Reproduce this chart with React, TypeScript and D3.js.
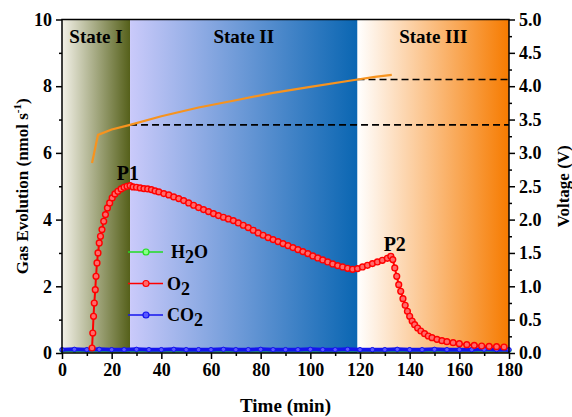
import * as d3 from 'd3'
import { useEffect, useRef } from 'react'

// time (min) and gas evolution (nmol/s) for O2
const o2Time = [12.1, 12.4, 12.7, 13.0, 13.4, 13.7, 14.1, 14.5, 15.0, 15.5, 16.1, 16.8, 17.5, 18.3, 19.2, 20.2, 21.3, 22.5, 23.8, 25.0, 26.2, 27.4, 28.6, 30, 31.5, 33, 34.5, 36, 37.5, 39, 41, 43, 45, 47, 49, 51, 53, 55, 57, 59, 61, 63, 65, 67, 69, 71, 73, 75, 77, 79, 81, 83, 85, 87, 89, 91, 93, 95, 97, 99, 101, 103, 105, 107, 109, 111, 113, 115, 117, 119, 121, 123, 125, 127, 129, 131, 132.4, 133.2, 134, 134.8, 135.6, 136.4, 137.3, 138.2, 139.1, 140, 141, 142, 143.2, 144.5, 146, 147.5, 149, 151, 153, 155, 157.5, 160, 163, 166, 169, 172, 175, 178]
const o2Values = [0.15, 0.6, 1.1, 1.5, 1.9, 2.3, 2.7, 3.0, 3.3, 3.5, 3.7, 3.95, 4.15, 4.35, 4.5, 4.65, 4.77, 4.85, 4.92, 4.97, 5.0, 5.02, 4.98, 4.97, 4.95, 4.93, 4.92, 4.9, 4.86, 4.83, 4.78, 4.74, 4.68, 4.63, 4.57, 4.5, 4.43, 4.36, 4.3, 4.24, 4.18, 4.12, 4.07, 4.02, 3.97, 3.9, 3.83, 3.76, 3.68, 3.6, 3.53, 3.46, 3.4, 3.34, 3.28, 3.22, 3.16, 3.1, 3.04, 2.98, 2.91, 2.85, 2.79, 2.73, 2.67, 2.62, 2.58, 2.54, 2.51, 2.53, 2.58, 2.63, 2.68, 2.73, 2.78, 2.84, 2.9, 2.8, 2.55, 2.3, 2.05, 1.85, 1.63, 1.43, 1.25, 1.1, 0.96, 0.85, 0.75, 0.66, 0.58, 0.51, 0.46, 0.41, 0.37, 0.34, 0.31, 0.28, 0.25, 0.23, 0.21, 0.2, 0.19, 0.18]

// baseline species
const baseTime = [0, 5, 10, 15, 20, 25, 30, 35, 40, 45, 50, 55, 60, 65, 70, 75, 80, 85, 90, 95, 100, 105, 110, 115, 120, 125, 130, 135, 140, 145, 150, 155, 160, 165, 170, 175, 180]
const co2Values = [0.1, 0.11, 0.1, 0.11, 0.1, 0.1, 0.11, 0.1, 0.1, 0.11, 0.1, 0.1, 0.1, 0.11, 0.1, 0.1, 0.11, 0.1, 0.1, 0.1, 0.11, 0.1, 0.1, 0.11, 0.1, 0.1, 0.1, 0.11, 0.1, 0.1, 0.11, 0.1, 0.1, 0.1, 0.11, 0.1, 0.1]
const h2oValues = [0.08, 0.08, 0.08, 0.09, 0.08, 0.08, 0.08, 0.09, 0.08, 0.08, 0.08, 0.08, 0.09, 0.08, 0.08, 0.08, 0.08, 0.09, 0.08, 0.08, 0.08, 0.08, 0.09, 0.08, 0.08, 0.08, 0.08, 0.09, 0.08, 0.08, 0.08, 0.08, 0.09, 0.08, 0.08, 0.08, 0.08]

// voltage (V)
const vTime = [12.1, 14.5, 20, 27.4, 40, 55, 70, 85, 100, 119, 126, 132.8]
const vValues = [2.85, 3.27, 3.35, 3.42, 3.55, 3.68, 3.79, 3.9, 3.99, 4.1, 4.14, 4.17]

// stage windows and voltage plateaus
const states = [
  { name: 'State I', from: 0, to: 27.4, colors: ['#f3f1e8', '#55601a'] },
  { name: 'State II', from: 27.4, to: 119, colors: ['#cacafa', '#0a66b2'] },
  { name: 'State III', from: 119, to: 180, colors: ['#ffffff', '#f67b00'] },
]
const plateaus = [{ v: 3.42, from: 27.4 }, { v: 4.1, from: 119 }]
const peaks = [{ label: 'P1', t: 26.5, v: 5.2 }, { label: 'P2', t: 134, v: 3.05 }]

const xTicks = [0, 20, 40, 60, 80, 100, 120, 140, 160, 180]
const yTicks = [0, 2, 4, 6, 8, 10]
const vTicks = [0, 0.5, 1, 1.5, 2, 2.5, 3, 3.5, 4, 4.5, 5]

const font = '"Liberation Serif", "Times New Roman", serif'

export default function App() {
  const ref = useRef(null)
  const width = 572
  const height = 417
  const left = 62, right = 509, top = 19.5, bottom = 353

  useEffect(() => {
    const svg = d3.select(ref.current)
    svg.selectAll('*').remove()

    const x = d3.scaleLinear().domain([0, 180]).range([left, right])
    const y = d3.scaleLinear().domain([0, 10]).range([bottom, top])
    const yv = d3.scaleLinear().domain([0, 5]).range([bottom, top])

    const defs = svg.append('defs')
    states.forEach((s, i) => {
      const g = defs.append('linearGradient').attr('id', 'st' + i)
      g.append('stop').attr('offset', '0%').attr('stop-color', s.colors[0])
      g.append('stop').attr('offset', '100%').attr('stop-color', s.colors[1])
      svg.append('rect')
        .attr('x', x(s.from)).attr('y', top)
        .attr('width', x(s.to) - x(s.from)).attr('height', bottom - top)
        .attr('fill', `url(#st${i})`)
      svg.append('text')
        .attr('x', (x(s.from) + x(s.to)) / 2).attr('y', 43)
        .attr('text-anchor', 'middle')
        .attr('font-family', font).attr('font-weight', 'bold').attr('font-size', 19)
        .text(s.name)
    })

    // dashed plateaus
    plateaus.forEach(p => {
      svg.append('line')
        .attr('x1', x(p.from)).attr('x2', right)
        .attr('y1', yv(p.v)).attr('y2', yv(p.v))
        .attr('stroke', 'black').attr('stroke-width', 1.6)
        .attr('stroke-dasharray', '7,4')
    })

    // voltage
    const vData = vTime.map((t, i) => [t, vValues[i]])
    svg.append('path')
      .datum(vData)
      .attr('fill', 'none').attr('stroke', '#f7931e').attr('stroke-width', 2.2)
      .attr('d', d3.line().x(d => x(d[0])).y(d => yv(d[1])))

    // baseline species
    const series = [
      { vals: h2oValues, color: '#22dd22', fill: '#88ff88' },
      { vals: co2Values, color: '#1414ee', fill: '#5a5aff' },
    ]
    series.forEach(s => {
      const data = baseTime.map((t, i) => [t, s.vals[i]])
      svg.append('path').datum(data)
        .attr('fill', 'none').attr('stroke', s.color).attr('stroke-width', 4)
        .attr('d', d3.line().x(d => x(d[0])).y(d => y(d[1])))
      svg.append('g').selectAll('circle').data(data).join('circle')
        .attr('cx', d => x(d[0])).attr('cy', d => y(d[1])).attr('r', 2.2)
        .attr('fill', s.fill).attr('stroke', s.color).attr('stroke-width', 1)
    })

    // O2
    const o2 = o2Time.map((t, i) => [t, o2Values[i]])
    svg.append('path').datum(o2)
      .attr('fill', 'none').attr('stroke', 'red').attr('stroke-width', 2)
      .attr('d', d3.line().x(d => x(d[0])).y(d => y(d[1])))
    svg.append('g').selectAll('circle').data(o2).join('circle')
      .attr('cx', d => x(d[0])).attr('cy', d => y(d[1])).attr('r', 2.9)
      .attr('fill', '#ff6b6b').attr('stroke', '#ff0000').attr('stroke-width', 1.4)

    // peak labels
    peaks.forEach(p => {
      svg.append('text')
        .attr('x', x(p.t)).attr('y', y(p.v))
        .attr('text-anchor', 'middle')
        .attr('font-family', font).attr('font-weight', 'bold').attr('font-size', 20)
        .text(p.label)
    })

    // legend
    const legend = [
      { label: 'H', sub: '2', tail: 'O', color: '#22dd22', fill: '#88ff88' },
      { label: 'O', sub: '2', tail: '', color: '#ff0000', fill: '#ff6b6b' },
      { label: 'CO', sub: '2', tail: '', color: '#1414ee', fill: '#5a5aff' },
    ]
    legend.forEach((l, i) => {
      const ly = 252 + i * 31.5
      svg.append('line').attr('x1', 128).attr('x2', 163).attr('y1', ly).attr('y2', ly)
        .attr('stroke', l.color).attr('stroke-width', 1.6)
      svg.append('circle').attr('cx', 146).attr('cy', ly).attr('r', 3)
        .attr('fill', l.fill).attr('stroke', l.color).attr('stroke-width', 1.2)
      const t = svg.append('text')
        .attr('x', i == 0 ? 171 : 167).attr('y', ly + 6)
        .attr('font-family', font).attr('font-weight', 'bold').attr('font-size', 18)
      t.append('tspan').text(l.label)
      t.append('tspan').attr('dy', 5).text(l.sub)
      if (l.tail) t.append('tspan').attr('dy', -5).text(l.tail)
    })

    // frame
    svg.append('rect')
      .attr('x', left).attr('y', top).attr('width', right - left).attr('height', bottom - top)
      .attr('fill', 'none').attr('stroke', 'black').attr('stroke-width', 1.5)

    const styleAxis = g => {
      g.select('.domain').remove()
      g.selectAll('line').attr('stroke', 'black').attr('stroke-width', 1.5)
      g.selectAll('text')
        .attr('font-family', font).attr('font-weight', 'bold').attr('font-size', 18).attr('fill', 'black')
    }

    // x axis
    svg.append('g').attr('transform', `translate(0,${bottom})`)
      .call(d3.axisBottom(x).tickValues(d3.range(10, 180, 20)).tickSize(3).tickFormat(() => ''))
      .call(styleAxis)
    svg.append('g').attr('transform', `translate(0,${bottom})`)
      .call(d3.axisBottom(x).tickValues(xTicks).tickSize(6).tickPadding(4))
      .call(styleAxis)

    // left axis
    svg.append('g').attr('transform', `translate(${left},0)`)
      .call(d3.axisLeft(y).tickValues([1, 3, 5, 7, 9]).tickSize(3).tickFormat(() => ''))
      .call(styleAxis)
    svg.append('g').attr('transform', `translate(${left},0)`)
      .call(d3.axisLeft(y).tickValues(yTicks).tickSize(6).tickPadding(4))
      .call(styleAxis)

    // right axis
    svg.append('g').attr('transform', `translate(${right},0)`)
      .call(d3.axisRight(yv).tickValues(d3.range(0.25, 5, 0.5)).tickSize(3).tickFormat(() => ''))
      .call(styleAxis)
    svg.append('g').attr('transform', `translate(${right},0)`)
      .call(d3.axisRight(yv).tickValues(vTicks).tickSize(6).tickPadding(4).tickFormat(d3.format('.1f')))
      .call(styleAxis)

    // axis titles
    svg.append('text')
      .attr('x', (left + right) / 2).attr('y', 412)
      .attr('text-anchor', 'middle')
      .attr('font-family', font).attr('font-weight', 'bold').attr('font-size', 19)
      .text('Time (min)')

    const yl = svg.append('text')
      .attr('transform', `translate(28,${(top + bottom) / 2}) rotate(-90)`)
      .attr('text-anchor', 'middle')
      .attr('font-family', font).attr('font-weight', 'bold').attr('font-size', 17)
    yl.append('tspan').text('Gas Evolution (nmol s')
    yl.append('tspan').attr('dy', -7).attr('font-size', 11).text('-1')
    yl.append('tspan').attr('dy', 7).text(')')

    svg.append('text')
      .attr('transform', `translate(569,${(top + bottom) / 2}) rotate(-90)`)
      .attr('text-anchor', 'middle')
      .attr('font-family', font).attr('font-weight', 'bold').attr('font-size', 17)
      .text('Voltage (V)')
  }, [])

  return (
    <svg ref={ref} width={width} height={height}
      style={{ position: 'absolute', left: 0, top: 0, background: 'white' }} />
  )
}
